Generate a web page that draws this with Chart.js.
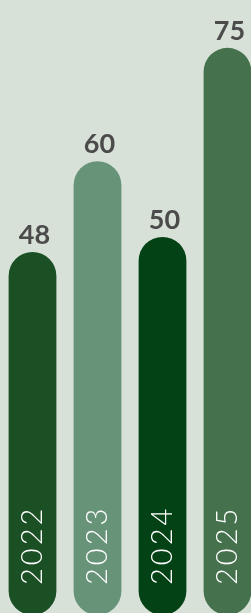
<!DOCTYPE html>
<html>
<head>
<meta charset="utf-8">
<script src="https://cdn.jsdelivr.net/npm/chart.js@4"></script>
<style>
  html, body { margin: 0; padding: 0; background: #d8e1d7; overflow: hidden; }
  #wrap { position: absolute; left: 0; top: 0; width: 260px; height: 615px; }
</style>
</head>
<body>
<div id="wrap"><canvas id="chart"></canvas></div>
<script>
// data
const years = ['2022', '2023', '2024', '2025'];
const values = [48, 60, 50, 75];
const barColors = ['#1b4f24', '#679379', '#034214', '#46714d'];

// value above each bar + year written up inside the bar
const barText = {
    id: 'barText',
    afterDatasetsDraw(chart) {
        const ctx = chart.ctx;
        const meta = chart.getDatasetMeta(0);
        ctx.save();
        meta.data.forEach((bar, i) => {
            ctx.fillStyle = '#4b4b4b';
            ctx.font = 'bold 27px Lato, "Open Sans", sans-serif';
            ctx.textAlign = 'center';
            ctx.textBaseline = 'alphabetic';
            ctx.fillText(values[i], bar.x + 2, bar.y - 8);

            ctx.save();
            ctx.translate(bar.x + 9, chart.chartArea.bottom - 30);
            ctx.rotate(-Math.PI / 2);
            ctx.fillStyle = '#ffffff';
            ctx.font = '300 29px Lato, "Open Sans", sans-serif';
            ctx.letterSpacing = '3px';
            ctx.textAlign = 'left';
            ctx.fillText(years[i], 0, 0);
            ctx.restore();
        });
        ctx.restore();
    }
};

new Chart(document.getElementById('chart'), {
    type: 'bar',
    data: {
        labels: years,
        datasets: [{
            data: values,
            backgroundColor: barColors,
            borderRadius: 24,
            borderSkipped: false,
            barPercentage: 1,
            categoryPercentage: 0.735
        }]
    },
    options: {
        responsive: true,
        maintainAspectRatio: false,
        animation: false,
        layout: { padding: { top: 10, left: 0, right: 0, bottom: 0 } },
        plugins: { legend: { display: false }, tooltip: { enabled: false } },
        scales: {
            x: { display: false },
            y: { display: false, min: 0, max: 80 }
        }
    },
    plugins: [barText]
});
</script>
</body>
</html>
